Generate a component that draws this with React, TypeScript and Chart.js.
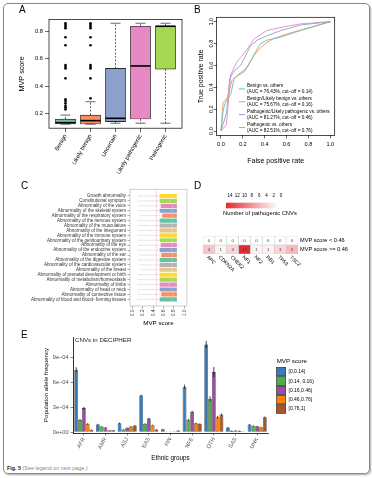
import React, { useEffect, useRef } from 'react';
import { Chart, registerables } from 'chart.js';

Chart.register(...registerables);

const FONT = "'Liberation Sans', Arial, Helvetica, sans-serif";

// ---------------- Panel A : box plot ----------------
const boxCategories = ['Benign', 'Likely benign', 'Uncertain', 'Likely pathogenic', 'Pathogenic'];
const boxQ1 = [0.121, 0.121, 0.138, 0.158, 0.525];
const boxMedian = [0.131, 0.146, 0.163, 0.548, 0.84];
const boxQ3 = [0.158, 0.187, 0.53, 0.84, 0.842];
const boxWhiskerLow = [0.12, 0.12, 0.127, 0.127, 0.127];
const boxWhiskerHigh = [0.187, 0.285, 0.862, 0.862, 0.862];
const benignOutliers = [0.229, 0.244, 0.256, 0.273, 0.29, 0.302, 0.457, 0.53, 0.542, 0.555, 0.7, 0.759, 0.825, 0.837, 0.85, 0.862];
const likelyBenignOutliers = [0.31, 0.457, 0.53, 0.542, 0.555, 0.7, 0.759, 0.825, 0.837, 0.85, 0.862];
const boxColors = ['#66c2a5', '#fc8d62', '#8da0cb', '#e78ac3', '#a6d854'];
const boxYTicks = [0.2, 0.4, 0.6, 0.8];

// ---------------- Panel B : ROC ----------------
const rocNames = ['Benign vs. others', 'Benign/Likely benign vs. others', 'Pathogenic/Likely pathogenic vs. others', 'Pathogenic vs. others'];
const rocAuc = ['(AUC = 76.43%, cut\u2212off = 0.14)', '(AUC = 75.67%, cut\u2212off = 0.16)', '(AUC = 81.27%, cut\u2212off = 0.46)', '(AUC = 82.51%, cut\u2212off = 0.76)'];
const rocColors = ['#66c2a5', '#fc8d62', '#8da0cb', '#e78ac3'];
const rocBenignFpr = [0, 0.02, 0.04, 0.09, 0.12, 0.16, 0.21, 0.27, 0.36, 0.42, 0.55, 0.73, 1];
const rocBenignTpr = [0, 0.19, 0.26, 0.34, 0.48, 0.51, 0.54, 0.64, 0.8, 0.83, 0.86, 0.92, 1];
const rocBenignLikelyFpr = [0, 0.02, 0.06, 0.1, 0.15, 0.24, 0.3, 0.38, 0.47, 0.61, 0.79, 1];
const rocBenignLikelyTpr = [0, 0.26, 0.31, 0.46, 0.51, 0.58, 0.69, 0.78, 0.84, 0.89, 0.94, 1];
const rocPathLikelyFpr = [0, 0.05, 0.08, 0.12, 0.18, 0.23, 0.27, 0.33, 0.42, 0.55, 0.73, 1];
const rocPathLikelyTpr = [0, 0.16, 0.48, 0.55, 0.6, 0.7, 0.78, 0.83, 0.87, 0.92, 0.97, 1];
const rocPathFpr = [0, 0.05, 0.09, 0.15, 0.18, 0.24, 0.3, 0.42, 0.61, 0.73, 1];
const rocPathTpr = [0, 0.06, 0.52, 0.64, 0.67, 0.75, 0.84, 0.92, 0.96, 0.98, 1];
const rocTicks = [0, 0.2, 0.4, 0.6, 0.8, 1.0];

// ---------------- Panel C : HPO box plots ----------------
const hpoTerms = [
  'Growth abnormality', 'Constitutional symptom', 'Abnormality of the voice', 'Abnormality of the skeletal system',
  'Abnormality of the respiratory system', 'Abnormality of the nervous system', 'Abnormality of the musculature',
  'Abnormality of the integument', 'Abnormality of the immune system', 'Abnormality of the genitourinary system',
  'Abnormality of the eye', 'Abnormality of the endocrine system', 'Abnormality of the ear',
  'Abnormality of the digestive system', 'Abnormality of the cardiovascular system', 'Abnormality of the breast',
  'Abnormality of prenatal development or birth', 'Abnormality of metabolism/homeostasis', 'Abnormality of limbs',
  'Abnormality of head or neck', 'Abnormality of connective tissue', 'Abnormality of blood and blood\u2212forming tissues',
];
const hpoLow = [0.1, 0.1, 0.12, 0.1, 0.14, 0.1, 0.1, 0.11, 0.1, 0.1, 0.1, 0.1, 0.12, 0.1, 0.11, 0.15, 0.1, 0.09, 0.1, 0.1, 0.11, 0.1];
const hpoQ1 = [0.53, 0.53, 0.55, 0.53, 0.58, 0.53, 0.53, 0.53, 0.53, 0.53, 0.55, 0.53, 0.56, 0.53, 0.53, 0.53, 0.53, 0.53, 0.53, 0.53, 0.56, 0.53];
const hpoMedian = [0.77, 0.72, 0.77, 0.76, 0.78, 0.76, 0.77, 0.76, 0.77, 0.76, 0.77, 0.76, 0.78, 0.76, 0.77, 0.76, 0.77, 0.76, 0.7, 0.76, 0.78, 0.76];
const hpoQ3 = [0.85, 0.85, 0.85, 0.85, 0.85, 0.85, 0.85, 0.85, 0.85, 0.85, 0.85, 0.85, 0.85, 0.85, 0.85, 0.85, 0.85, 0.85, 0.85, 0.85, 0.85, 0.85];
const hpoHigh = [0.86, 0.86, 0.86, 0.86, 0.86, 0.86, 0.86, 0.86, 0.86, 0.86, 0.86, 0.86, 0.86, 0.86, 0.86, 0.86, 0.86, 0.86, 0.86, 0.86, 0.86, 0.86];
const hpoPalette = ['#ffd92f', '#a6d854', '#e78ac3', '#8da0cb', '#fc8d62', '#66c2a5', '#b3b3b3', '#e5c494'];
const hpoCutoff = 0.46;

// ---------------- Panel D : heatmap ----------------
const cnvGenes = ['APC', 'CDKN2A', 'CHEK2', 'NF1', 'NF2', 'RB1', 'TP53', 'TSC2'];
const cnvRows = ['MVP score < 0.46', 'MVP score >= 0.46'];
const cnvLowScore = [0, 0, 0, 0, 0, 0, 0, 0];
const cnvHighScore = [4, 1, 3, 15, 1, 1, 3, 5];
const cnvLegendTicks = [14, 12, 10, 8, 6, 4, 2, 0];
const cnvColorMax = 15;

// ---------------- Panel E : grouped bars ----------------
const ethnicGroups = ['AFR', 'AMR', 'ASJ', 'EAS', 'FIN', 'NFE', 'OTH', 'SAS', 'UNK'];
const mvpBins = ['[0,0.14)', '[0.14, 0.16)', '[0.16,0.46)', '[0.46,0.76)', '[0.76,1]'];
const mvpBinColors = ['#377eb8', '#4daf4a', '#984ea3', '#ff7f00', '#a65628'];
const afBin1 = [7.48e-4, 0.92e-4, 1.08e-4, 4.4e-4, 0.36e-4, 5.44e-4, 10.5e-4, 0.56e-4, 0.92e-4];
const afBin2 = [1.48e-4, 0.68e-4, 0.32e-4, 1.0e-4, 0.04e-4, 1.48e-4, 4.0e-4, 0.16e-4, 0.76e-4];
const afBin3 = [2.88e-4, 0.56e-4, 0.52e-4, 1.64e-4, 0.02e-4, 2.44e-4, 7.2e-4, 0.2e-4, 0.72e-4];
const afBin4 = [1.0e-4, 0.24e-4, 0.68e-4, 0.84e-4, 0.08e-4, 1.08e-4, 1.8e-4, 0.16e-4, 0.6e-4];
const afBin5 = [0.28e-4, 0.24e-4, 0.8e-4, 0.32e-4, 0.2e-4, 1.0e-4, 2.12e-4, 0.08e-4, 1.8e-4];
const errBin1 = [0.3e-4, 0.08e-4, 0.08e-4, 0.1e-4, 0.05e-4, 0.25e-4, 0.45e-4, 0.05e-4, 0.05e-4];
const errBin2 = [0.1e-4, 0.05e-4, 0.05e-4, 0.06e-4, 0.02e-4, 0.1e-4, 0.3e-4, 0.03e-4, 0.05e-4];
const errBin3 = [0.15e-4, 0.05e-4, 0.05e-4, 0.08e-4, 0.02e-4, 0.12e-4, 0.6e-4, 0.03e-4, 0.05e-4];
const errBin4 = [0.08e-4, 0.03e-4, 0.05e-4, 0.06e-4, 0.02e-4, 0.06e-4, 0.15e-4, 0.03e-4, 0.04e-4];
const errBin5 = [0.04e-4, 0.03e-4, 0.05e-4, 0.04e-4, 0.03e-4, 0.06e-4, 0.12e-4, 0.02e-4, 0.08e-4];
const afTicks = [0, 3e-4, 6e-4, 9e-4];

// ---------------- helpers ----------------
const fixedTicks = (vals: number[]) => (scale: any) => {
  scale.ticks = vals.map((v) => ({ value: v }));
};
const fnt = (size: number, weight = 'normal') => ({ family: FONT, size, weight, lineHeight: 1.2 });

const frameBlack = {
  id: 'frameBlack',
  afterDraw(chart: any) {
    const { ctx, chartArea: a } = chart;
    ctx.save();
    ctx.strokeStyle = '#000';
    ctx.lineWidth = 0.7;
    ctx.strokeRect(a.left, a.top, a.right - a.left, a.bottom - a.top);
    ctx.restore();
  },
};

function configA() {
  const boxPlugin = {
    id: 'boxA',
    afterDatasetsDraw(chart: any) {
      const { ctx, scales } = chart;
      const x = scales.x, y = scales.y;
      ctx.save();
      ctx.strokeStyle = '#000';
      boxCategories.forEach((_, i) => {
        const cx = x.getPixelForValue(i + 1);
        const half = x.getPixelForValue(i + 1.4) - cx;
        const cap = half / 2;
        ctx.lineWidth = 0.6;
        ctx.setLineDash([2, 1.5]);
        ctx.beginPath();
        ctx.moveTo(cx, y.getPixelForValue(boxQ3[i]));
        ctx.lineTo(cx, y.getPixelForValue(boxWhiskerHigh[i]));
        ctx.moveTo(cx, y.getPixelForValue(boxQ1[i]));
        ctx.lineTo(cx, y.getPixelForValue(boxWhiskerLow[i]));
        ctx.stroke();
        ctx.setLineDash([]);
        ctx.beginPath();
        ctx.moveTo(cx - cap, y.getPixelForValue(boxWhiskerHigh[i]));
        ctx.lineTo(cx + cap, y.getPixelForValue(boxWhiskerHigh[i]));
        ctx.moveTo(cx - cap, y.getPixelForValue(boxWhiskerLow[i]));
        ctx.lineTo(cx + cap, y.getPixelForValue(boxWhiskerLow[i]));
        ctx.stroke();
        ctx.lineWidth = 1.6;
        ctx.beginPath();
        ctx.moveTo(cx - half, y.getPixelForValue(boxMedian[i]));
        ctx.lineTo(cx + half, y.getPixelForValue(boxMedian[i]));
        ctx.stroke();
      });
      ctx.restore();
    },
  };
  const outliers = [
    ...benignOutliers.map((v) => ({ x: 1, y: v })),
    ...likelyBenignOutliers.map((v) => ({ x: 2, y: v })),
  ];
  return {
    type: 'bar',
    data: {
      datasets: [
        {
          type: 'bar',
          data: boxCategories.map((_, i) => ({ x: i + 1, y: [boxQ1[i], boxQ3[i]] })),
          backgroundColor: boxColors,
          borderColor: '#000',
          borderWidth: 0.7,
          borderSkipped: false,
          barThickness: 20,
          order: 2,
        },
        {
          type: 'scatter',
          data: outliers,
          pointRadius: 1.3,
          pointBackgroundColor: '#000',
          pointBorderWidth: 0,
          order: 1,
        },
      ],
    },
    options: {
      responsive: false,
      animation: false,
      layout: { padding: { left: 0, right: 4, top: 19.5, bottom: 0 } },
      plugins: { legend: { display: false }, tooltip: { enabled: false } },
      scales: {
        x: {
          type: 'linear', min: 0.34, max: 5.66, offset: false,
          afterBuildTicks: fixedTicks([1, 2, 3, 4, 5]),
          afterFit: (s: any) => { s.height = 49.8; },
          ticks: { callback: (v: number) => boxCategories[v - 1], minRotation: 60, maxRotation: 60, autoSkip: false, font: fnt(5.8), color: '#000', padding: 1 },
          grid: { drawOnChartArea: false, tickLength: 4, color: '#000', lineWidth: 0.6, offset: false },
          border: { display: false },
        },
        y: {
          type: 'linear', min: 0.0904, max: 0.8896,
          afterBuildTicks: fixedTicks(boxYTicks),
          afterFit: (s: any) => { s.width = 49; },
          ticks: { callback: (v: number) => v.toFixed(1), font: fnt(5.8), color: '#000', padding: 2 },
          grid: { drawOnChartArea: false, tickLength: 4, color: '#000', lineWidth: 0.6 },
          border: { display: false },
          title: { display: true, text: 'MVP score', font: fnt(7.2), color: '#000', padding: { top: 17.5, bottom: 0 } },
        },
      },
    },
    plugins: [boxPlugin, frameBlack],
  };
}

function configB() {
  const series = [
    [rocBenignFpr, rocBenignTpr],
    [rocBenignLikelyFpr, rocBenignLikelyTpr],
    [rocPathLikelyFpr, rocPathLikelyTpr],
    [rocPathFpr, rocPathTpr],
  ];
  const legendPlugin = {
    id: 'rocLegend',
    afterDatasetsDraw(chart: any) {
      const ctx = chart.ctx;
      ctx.save();
      ctx.font = `4.7px ${FONT}`;
      ctx.textBaseline = 'middle';
      ctx.fillStyle = '#000';
      const lx0 = 239 - 186, lx1 = 245 - 186, tx = 247 - 186;
      const y0 = 85.7, step = 6.43;
      rocNames.forEach((name, i) => {
        const ya = y0 + 2 * i * step;
        const yb = ya + step;
        ctx.fillText(name, tx, ya);
        ctx.fillText(rocAuc[i], tx, yb);
        ctx.strokeStyle = rocColors[i];
        ctx.lineWidth = 1;
        ctx.beginPath();
        ctx.moveTo(lx0, (ya + yb) / 2);
        ctx.lineTo(lx1, (ya + yb) / 2);
        ctx.stroke();
      });
      ctx.restore();
    },
  };
  return {
    type: 'scatter',
    data: {
      datasets: series.map(([fx, ty], i) => ({
        data: fx.map((v, k) => ({ x: v, y: ty[k] })),
        showLine: true,
        borderColor: rocColors[i],
        borderWidth: 0.9,
        pointRadius: 0,
        fill: false,
      })),
    },
    options: {
      responsive: false,
      animation: false,
      layout: { padding: { left: 0, right: 37.3, top: 17.3, bottom: 0 } },
      plugins: { legend: { display: false }, tooltip: { enabled: false } },
      scales: {
        x: {
          type: 'linear', min: -0.04, max: 1.04,
          afterBuildTicks: fixedTicks(rocTicks),
          afterFit: (s: any) => { s.height = 34.6; },
          ticks: { callback: (v: number) => v.toFixed(1), font: fnt(5.6), color: '#000', padding: 3 },
          grid: { drawOnChartArea: false, tickLength: 3, color: '#000', lineWidth: 0.6 },
          border: { display: false },
          title: { display: true, text: 'False positive rate', font: fnt(7), color: '#000', padding: { top: 0, bottom: 4.8 } },
        },
        y: {
          type: 'linear', min: -0.04, max: 1.04,
          afterBuildTicks: fixedTicks(rocTicks),
          afterFit: (s: any) => { s.width = 30.6; },
          ticks: { callback: (v: number) => v.toFixed(1), font: fnt(5.6), color: '#000', minRotation: 90, maxRotation: 90, crossAlign: 'center', padding: -1.5 },
          grid: { drawOnChartArea: false, tickLength: 3, color: '#000', lineWidth: 0.6 },
          border: { display: false },
          title: { display: true, text: 'True positive rate', font: fnt(7), color: '#000', padding: { top: 10.8, bottom: 0 } },
        },
      },
    },
    plugins: [legendPlugin, frameBlack],
  };
}

function configC() {
  const colors = hpoTerms.map((_, i) => hpoPalette[i % hpoPalette.length]);
  const plugin = {
    id: 'hpoBox',
    beforeDatasetsDraw(chart: any) {
      const { ctx, scales, chartArea: a } = chart;
      const x = scales.x, y = scales.y;
      ctx.save();
      // cutoff line
      ctx.strokeStyle = '#f29a9a';
      ctx.lineWidth = 0.6;
      ctx.setLineDash([1.5, 1]);
      ctx.beginPath();
      ctx.moveTo(x.getPixelForValue(hpoCutoff), a.top);
      ctx.lineTo(x.getPixelForValue(hpoCutoff), a.bottom);
      ctx.stroke();
      // whiskers
      ctx.strokeStyle = '#9a9a9a';
      ctx.lineWidth = 0.5;
      ctx.setLineDash([0.8, 0.8]);
      hpoTerms.forEach((_, i) => {
        const py = y.getPixelForValue(i);
        ctx.beginPath();
        ctx.moveTo(x.getPixelForValue(hpoLow[i]), py);
        ctx.lineTo(x.getPixelForValue(hpoQ1[i]), py);
        ctx.moveTo(x.getPixelForValue(hpoQ3[i]), py);
        ctx.lineTo(x.getPixelForValue(hpoHigh[i]), py);
        ctx.stroke();
      });
      ctx.restore();
    },
    afterDatasetsDraw(chart: any) {
      const { ctx, scales } = chart;
      const x = scales.x, y = scales.y;
      ctx.save();
      ctx.strokeStyle = 'rgba(255,255,255,0.45)';
      ctx.lineWidth = 0.6;
      hpoTerms.forEach((_, i) => {
        const py = y.getPixelForValue(i);
        const px = x.getPixelForValue(hpoMedian[i]);
        ctx.beginPath();
        ctx.moveTo(px, py - 1.75);
        ctx.lineTo(px, py + 1.75);
        ctx.stroke();
      });
      ctx.restore();
    },
    afterDraw(chart: any) {
      const { ctx, chartArea: a } = chart;
      ctx.save();
      ctx.strokeStyle = '#c4c4c4';
      ctx.lineWidth = 0.8;
      ctx.strokeRect(a.left, a.top, a.right - a.left, a.bottom - a.top);
      ctx.restore();
    },
  };
  return {
    type: 'bar',
    data: {
      datasets: [
        {
          data: hpoTerms.map((_, i) => ({ y: i, x: [hpoQ1[i], hpoQ3[i]] })),
          backgroundColor: colors,
          borderWidth: 0,
          barThickness: 3.5,
        },
      ],
    },
    options: {
      indexAxis: 'y',
      responsive: false,
      animation: false,
      layout: { padding: { left: 0, right: 5.1, top: 9.3, bottom: 0 } },
      plugins: { legend: { display: false }, tooltip: { enabled: false } },
      scales: {
        y: {
          type: 'linear', reverse: true, min: -1.36, max: 22.36, offset: false,
          afterBuildTicks: fixedTicks(hpoTerms.map((_, i) => i)),
          afterFit: (s: any) => { s.width = 130; },
          ticks: { callback: (v: number) => hpoTerms[v], autoSkip: false, font: fnt(4.5), color: '#333', padding: 1.5 },
          grid: { drawOnChartArea: false, tickLength: 2.5, color: '#555', lineWidth: 0.5, offset: false },
          border: { display: false },
        },
        x: {
          type: 'linear', min: -0.05, max: 1.05,
          afterBuildTicks: fixedTicks([0, 0.2, 0.4, 0.6, 0.8, 1.0]),
          afterFit: (s: any) => { s.height = 24; },
          ticks: { callback: (v: number) => v.toFixed(1), minRotation: 90, maxRotation: 90, font: fnt(4.6), color: '#333', padding: 1 },
          grid: { drawOnChartArea: false, tickLength: 2.5, color: '#555', lineWidth: 0.5 },
          border: { display: false },
          title: { display: true, text: 'MVP score', font: fnt(6.2), color: '#000', padding: { top: 0, bottom: 3.1 } },
        },
      },
    },
    plugins: [plugin],
  };
}

const heatColor = (v: number) => {
  const t = Math.min(v / cnvColorMax, 1);
  const r = Math.round(255 + (228 - 255) * t);
  const g = Math.round(255 + (42 - 255) * t);
  const b = Math.round(255 + (48 - 255) * t);
  return `rgb(${r},${g},${b})`;
};

function configD() {
  const plugin = {
    id: 'heat',
    afterDatasetsDraw(chart: any) {
      const { ctx, chartArea: a } = chart;
      ctx.save();
      // cell labels
      ctx.font = `4.4px ${FONT}`;
      ctx.textAlign = 'center';
      ctx.textBaseline = 'middle';
      ctx.fillStyle = '#444';
      const rowsVals = [cnvHighScore, cnvLowScore];
      chart.data.datasets.forEach((_: any, di: number) => {
        const meta = chart.getDatasetMeta(di);
        meta.data.forEach((el: any, j: number) => {
          ctx.fillText(String(rowsVals[di][j]), el.x, (el.y + el.base) / 2);
        });
      });
      // gene labels
      ctx.font = `5px ${FONT}`;
      ctx.fillStyle = '#000';
      ctx.textAlign = 'left';
      const meta0 = chart.getDatasetMeta(0);
      meta0.data.forEach((el: any, j: number) => {
        ctx.save();
        ctx.translate(el.x - 1.5, a.bottom + 2.5);
        ctx.rotate(Math.PI / 4);
        ctx.fillText(cnvGenes[j], 0, 0);
        ctx.restore();
      });
      // color bar legend
      const bx0 = 36, bx1 = 88, by0 = 22.7, by1 = 28.3;
      const grad = ctx.createLinearGradient(bx0, 0, bx1, 0);
      grad.addColorStop(0, heatColor(cnvColorMax));
      grad.addColorStop(1, heatColor(0));
      ctx.fillStyle = grad;
      ctx.fillRect(bx0, by0, bx1 - bx0, by1 - by0);
      ctx.font = `4.5px ${FONT}`;
      ctx.fillStyle = '#000';
      ctx.textAlign = 'center';
      cnvLegendTicks.forEach((v) => {
        const px = 40 + ((14 - v) / 14) * 51;
        ctx.fillText(String(v), px, 15.7);
      });
      ctx.textAlign = 'left';
      ctx.font = `5.8px ${FONT}`;
      ctx.fillText('Number of pathogenic CNVs', 33, 33.7);
      ctx.restore();
    },
  };
  return {
    type: 'bar',
    data: {
      labels: cnvGenes,
      datasets: [
        { data: cnvGenes.map(() => 1), backgroundColor: cnvHighScore.map(heatColor), borderColor: '#cfcfcf', borderWidth: 0.6, borderSkipped: false, barPercentage: 1, categoryPercentage: 1 },
        { data: cnvGenes.map(() => 1), backgroundColor: cnvLowScore.map(heatColor), borderColor: '#cfcfcf', borderWidth: 0.6, borderSkipped: false, barPercentage: 1, categoryPercentage: 1 },
      ],
    },
    options: {
      responsive: false,
      animation: false,
      layout: { padding: { left: 13, right: 0, top: 56, bottom: 28 } },
      plugins: { legend: { display: false }, tooltip: { enabled: false } },
      scales: {
        x: { stacked: true, display: false },
        y: {
          stacked: true, position: 'right', min: 0, max: 2,
          afterBuildTicks: fixedTicks([0.5, 1.5]),
          afterFit: (s: any) => { s.width = 74; },
          ticks: { callback: (v: number) => (v > 1 ? cnvRows[0] : cnvRows[1]), font: fnt(5.6), color: '#000', padding: 2 },
          grid: { display: false, drawTicks: false },
          border: { display: false },
        },
      },
    },
    plugins: [plugin],
  };
}

function configE() {
  const values = [afBin1, afBin2, afBin3, afBin4, afBin5];
  const errors = [errBin1, errBin2, errBin3, errBin4, errBin5];
  const plugin = {
    id: 'errE',
    afterDatasetsDraw(chart: any) {
      const { ctx, scales } = chart;
      const y = scales.y;
      ctx.save();
      ctx.strokeStyle = '#111';
      ctx.lineWidth = 0.8;
      values.forEach((arr, di) => {
        const meta = chart.getDatasetMeta(di);
        meta.data.forEach((el: any, j: number) => {
          ctx.beginPath();
          ctx.moveTo(el.x, y.getPixelForValue(arr[j] - errors[di][j]));
          ctx.lineTo(el.x, y.getPixelForValue(arr[j] + errors[di][j]));
          ctx.stroke();
        });
      });
      // inner title
      ctx.fillStyle = '#222';
      ctx.font = `6.2px ${FONT}`;
      ctx.textBaseline = 'middle';
      ctx.textAlign = 'left';
      ctx.fillText('CNVs in DECIPHER', 75, 10.7);
      // legend
      ctx.fillStyle = '#000';
      ctx.font = `6.2px ${FONT}`;
      ctx.fillText('MVP score', 276.7, 31);
      ctx.font = `5px ${FONT}`;
      mvpBins.forEach((lab, i) => {
        const top = 37.4 + i * 9.33;
        ctx.fillStyle = mvpBinColors[i];
        ctx.fillRect(276.5, top, 9.2, 8.6);
        ctx.strokeStyle = '#222';
        ctx.lineWidth = 0.6;
        ctx.strokeRect(276.5, top, 9.2, 8.6);
        ctx.fillStyle = '#000';
        ctx.fillText(lab, 288.5, top + 4.4);
      });
      ctx.restore();
    },
  };
  return {
    type: 'bar',
    data: {
      labels: ethnicGroups,
      datasets: values.map((arr, i) => ({
        label: mvpBins[i],
        data: arr,
        backgroundColor: mvpBinColors[i],
        borderColor: '#222',
        borderWidth: 0.6,
        borderSkipped: false,
        categoryPercentage: 0.88,
        barPercentage: 1,
      })),
    },
    options: {
      responsive: false,
      animation: false,
      layout: { padding: { left: 0, right: 104, top: 7, bottom: 0 } },
      plugins: { legend: { display: false }, tooltip: { enabled: false } },
      scales: {
        x: {
          afterFit: (s: any) => { s.height = 32; },
          ticks: { minRotation: 60, maxRotation: 60, autoSkip: false, font: fnt(5.5), color: '#4d4d4d', padding: 1 },
          grid: { drawOnChartArea: false, tickLength: 2.5, color: '#333', lineWidth: 0.6, offset: false },
          border: { display: true, color: '#000', width: 0.8 },
          title: { display: true, text: 'Ethnic groups', font: fnt(6.3), color: '#000', padding: { top: 0, bottom: 3.3 } },
        },
        y: {
          type: 'linear', min: -0.1e-4, max: 11.4e-4,
          afterBuildTicks: fixedTicks(afTicks),
          afterFit: (s: any) => { s.width = 73; },
          ticks: {
            callback: (v: number) => (v === 0 ? '0e+00' : `${Math.round(v / 1e-4)}e\u221204`),
            font: fnt(5.6), color: '#4d4d4d', padding: 2,
          },
          grid: { drawOnChartArea: false, tickLength: 2.5, color: '#333', lineWidth: 0.6 },
          border: { display: true, color: '#000', width: 0.8 },
          title: { display: true, text: 'Population allele frequency', font: fnt(6.2), color: '#000', padding: { top: 43, bottom: 0 } },
        },
      },
    },
    plugins: [plugin],
  };
}

export default function App() {
  const aRef = useRef<HTMLCanvasElement>(null);
  const bRef = useRef<HTMLCanvasElement>(null);
  const cRef = useRef<HTMLCanvasElement>(null);
  const dRef = useRef<HTMLCanvasElement>(null);
  const eRef = useRef<HTMLCanvasElement>(null);

  useEffect(() => {
    Chart.defaults.font.family = FONT;
    Chart.defaults.color = '#000';
    const charts = [
      new Chart(aRef.current as any, configA() as any),
      new Chart(bRef.current as any, configB() as any),
      new Chart(cRef.current as any, configC() as any),
      new Chart(dRef.current as any, configD() as any),
      new Chart(eRef.current as any, configE() as any),
    ];
    return () => charts.forEach((c) => c.destroy());
  }, []);

  const abs = (left: number, top: number) => ({ position: 'absolute' as const, left, top });
  const letter = { position: 'absolute' as const, fontSize: 10, lineHeight: '10px', color: '#000', fontFamily: FONT };

  return (
    <div style={{ position: 'absolute', left: 0, top: 0, width: 372, height: 478, background: '#fff', fontFamily: FONT, overflow: 'hidden' }}>
      <div style={{ position: 'absolute', left: 3, top: 3, width: 367, height: 471, boxSizing: 'border-box', border: '1px solid #8a8a8a', borderRadius: 5, boxShadow: '1px 1px 2px rgba(0,0,0,0.35)' }} />
      <canvas ref={aRef} width={186} height={178} style={abs(0, 0)} />
      <canvas ref={bRef} width={186} height={170} style={abs(186, 0)} />
      <canvas ref={cRef} width={192} height={150} style={abs(0, 180)} />
      <canvas ref={dRef} width={182} height={102} style={abs(190, 180)} />
      <canvas ref={eRef} width={372} height={135} style={abs(0, 330)} />
      <div style={{ ...letter, left: 19, top: 5 }}>A</div>
      <div style={{ ...letter, left: 194, top: 5 }}>B</div>
      <div style={{ ...letter, left: 21, top: 181 }}>C</div>
      <div style={{ ...letter, left: 194, top: 181 }}>D</div>
      <div style={{ ...letter, left: 21, top: 330 }}>E</div>
      <div style={{ position: 'absolute', left: 7, top: 465, fontSize: 5.4, lineHeight: '7px', whiteSpace: 'nowrap' }}>
        <span style={{ fontWeight: 'bold', color: '#222' }}>Fig. 5</span>
        <span style={{ color: '#888' }}> (See legend on next page.)</span>
      </div>
    </div>
  );
}
